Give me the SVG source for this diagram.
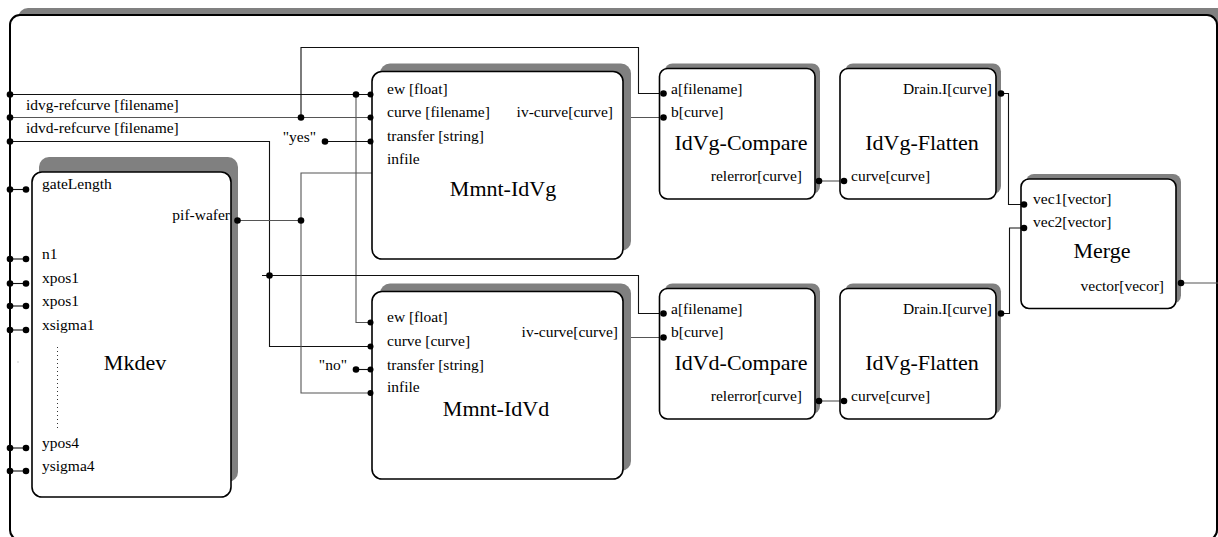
<svg xmlns="http://www.w3.org/2000/svg" width="1218" height="537" viewBox="0 0 1218 537">
<style>
.sh{fill:#808080}
.box{fill:#fff;stroke:#000;stroke-width:1.6}
.t{font-family:"Liberation Serif","Times New Roman",serif;font-size:15.5px;fill:#000}
.e{text-anchor:end}
.ti{font-family:"Liberation Serif","Times New Roman",serif;font-size:22px;fill:#000;text-anchor:middle}
.k{fill:none;stroke:#111;stroke-width:1.1}
.g{fill:none;stroke:#555;stroke-width:1.1}
.d{fill:#000}
</style>
<rect x="0" y="0" width="1218" height="537" fill="#fff"/>
<g id="frame">
<rect class="sh" x="18" y="8" width="1212" height="525" rx="10"/>
<rect x="10" y="15" width="1207" height="525" rx="10" fill="#fff" stroke="#000" stroke-width="2"/>
<text class="t" x="26" y="110">idvg-refcurve [filename]</text>
<text class="t" x="26" y="133">idvd-refcurve [filename]</text>
<text class="t e" x="316" y="142">"yes"</text>
<text class="t e" x="347" y="370">"no"</text>
<rect x="17.5" y="361.5" width="1" height="1" fill="#999"/>
</g>
<g id="connectors">
<polyline class="k" points="10,94.5 372,94.5"/>
<polyline class="g" points="356,94.5 356,322.5 372,322.5"/>
<polyline class="g" points="10,117.5 372,117.5"/>
<polyline class="k" points="301,117.5 301,47.5 638.5,47.5 638.5,93.5 663,93.5"/>
<polyline class="k" points="10,141.5 269.5,141.5 269.5,346.5 372,346.5"/>
<polyline class="k" points="325,141.5 372,141.5"/>
<polyline class="k" points="262,275.5 638.5,275.5 638.5,313.5 663,313.5"/>
<polyline class="g" points="238,220.5 301,220.5"/>
<polyline class="g" points="372,173 301,173 301,393 372,393"/>
<polyline class="k" points="356,369.5 372,369.5"/>
<polyline class="g" points="623,117.5 663,117.5"/>
<polyline class="g" points="623,337.5 663,337.5"/>
<polyline class="g" points="819,181 844,181"/>
<polyline class="g" points="819,401 844,401"/>
<polyline class="k" points="1001,93.5 1008.5,93.5 1008.5,204.5 1024,204.5"/>
<polyline class="k" points="1001,313.5 1009.5,313.5 1009.5,228 1024,228"/>
<polyline class="g" points="1181,283 1218,283"/>
<polyline class="k" points="10,189.5 26,189.5"/>
<polyline class="k" points="10,259 26,259"/>
<polyline class="k" points="10,283.5 26,283.5"/>
<polyline class="k" points="10,306 26,306"/>
<polyline class="k" points="10,330 26,330"/>
<polyline class="k" points="10,448 26,448"/>
<polyline class="k" points="10,471 26,471"/>
<circle class="d" cx="10" cy="94.5" r="3.3"/>
<circle class="d" cx="10" cy="117.5" r="3.3"/>
<circle class="d" cx="10" cy="141.5" r="3.3"/>
<circle class="d" cx="356" cy="94.5" r="3.3"/>
<circle class="d" cx="301" cy="117.5" r="3.3"/>
<circle class="d" cx="325" cy="141.5" r="3.3"/>
<circle class="d" cx="301" cy="220.5" r="3.3"/>
<circle class="d" cx="269.5" cy="275.5" r="3.3"/>
<circle class="d" cx="356" cy="369.5" r="3.3"/>
<circle class="d" cx="10" cy="189.5" r="3.3"/>
<circle class="d" cx="26" cy="189.5" r="3.3"/>
<circle class="d" cx="10" cy="259" r="3.3"/>
<circle class="d" cx="26" cy="259" r="3.3"/>
<circle class="d" cx="10" cy="283.5" r="3.3"/>
<circle class="d" cx="26" cy="283.5" r="3.3"/>
<circle class="d" cx="10" cy="306" r="3.3"/>
<circle class="d" cx="26" cy="306" r="3.3"/>
<circle class="d" cx="10" cy="330" r="3.3"/>
<circle class="d" cx="26" cy="330" r="3.3"/>
<circle class="d" cx="10" cy="448" r="3.3"/>
<circle class="d" cx="26" cy="448" r="3.3"/>
<circle class="d" cx="10" cy="471" r="3.3"/>
<circle class="d" cx="26" cy="471" r="3.3"/>
</g>
<g id="Mkdev">
<rect class="sh" x="39" y="157" width="199" height="325" rx="10"/>
<rect class="box" x="32" y="172" width="199" height="325" rx="10"/>
<text class="t" x="42" y="189">gateLength</text>
<text class="t e" x="230" y="220">pif-wafer</text>
<text class="t" x="42" y="259">n1</text>
<text class="t" x="42" y="283">xpos1</text>
<text class="t" x="42" y="306">xpos1</text>
<text class="t" x="42" y="330">xsigma1</text>
<text class="t" x="42" y="448">ypos4</text>
<text class="t" x="42" y="471">ysigma4</text>
<line x1="57.5" y1="347" x2="57.5" y2="431" stroke="#333" stroke-width="1" stroke-dasharray="1,3"/>
<text class="ti" x="135" y="370">Mkdev</text>
<circle class="d" cx="237.5" cy="220.5" r="3.3"/>
</g>
<g id="Mmnt-IdVg">
<rect class="sh" x="380" y="63.5" width="251" height="187.5" rx="10"/>
<rect class="box" x="372" y="71.5" width="251" height="187.5" rx="10"/>
<circle class="d" cx="370.5" cy="94.5" r="3"/>
<circle class="d" cx="370.5" cy="117.5" r="3"/>
<circle class="d" cx="370.5" cy="141.5" r="3"/>
<text class="t" x="387" y="94">ew [float]</text>
<text class="t" x="387" y="117">curve [filename]</text>
<text class="t" x="387" y="141">transfer [string]</text>
<text class="t" x="387" y="164">infile</text>
<text class="t e" x="613" y="117">iv-curve[curve]</text>
<text class="ti" x="503" y="196">Mmnt-IdVg</text>
</g>
<g id="Mmnt-IdVd">
<rect class="sh" x="380" y="283.5" width="251" height="187.5" rx="10"/>
<rect class="box" x="372" y="291.5" width="251" height="187.5" rx="10"/>
<circle class="d" cx="370.5" cy="322.5" r="3"/>
<circle class="d" cx="370.5" cy="346.5" r="3"/>
<circle class="d" cx="370.5" cy="369.5" r="3"/>
<circle class="d" cx="370.5" cy="393" r="3"/>
<text class="t" x="387" y="322">ew [float]</text>
<text class="t" x="387" y="346">curve [curve]</text>
<text class="t" x="387" y="370">transfer [string]</text>
<text class="t" x="387" y="392">infile</text>
<text class="t e" x="618" y="337">iv-curve[curve]</text>
<text class="ti" x="496" y="416">Mmnt-IdVd</text>
</g>
<g id="IdVg-Compare">
<rect class="sh" x="664.5" y="63.5" width="155.5" height="130.5" rx="8"/>
<rect class="box" x="659.5" y="68.5" width="155.5" height="130.5" rx="8"/>
<circle class="d" cx="663.5" cy="93.5" r="3.3"/>
<circle class="d" cx="663.5" cy="117.5" r="3.3"/>
<circle class="d" cx="819" cy="181" r="3.3"/>
<text class="t" x="671" y="94">a[filename]</text>
<text class="t" x="671" y="117">b[curve]</text>
<text class="ti" x="741" y="150">IdVg-Compare</text>
<text class="t e" x="802" y="181">relerror[curve]</text>
</g>
<g id="IdVg-Flatten">
<rect class="sh" x="845" y="63.5" width="156" height="130.5" rx="8"/>
<rect class="box" x="840" y="68.5" width="156" height="130.5" rx="8"/>
<circle class="d" cx="1001" cy="93.5" r="3.3"/>
<circle class="d" cx="844" cy="181" r="3.3"/>
<text class="t e" x="992" y="94">Drain.I[curve]</text>
<text class="ti" x="922" y="150">IdVg-Flatten</text>
<text class="t" x="851" y="181">curve[curve]</text>
</g>
<g id="IdVd-Compare">
<rect class="sh" x="664.5" y="283.5" width="155.5" height="130.5" rx="8"/>
<rect class="box" x="659.5" y="288.5" width="155.5" height="130.5" rx="8"/>
<circle class="d" cx="663.5" cy="313.5" r="3.3"/>
<circle class="d" cx="663.5" cy="337.5" r="3.3"/>
<circle class="d" cx="819" cy="401" r="3.3"/>
<text class="t" x="671" y="314">a[filename]</text>
<text class="t" x="671" y="337">b[curve]</text>
<text class="ti" x="741" y="370">IdVd-Compare</text>
<text class="t e" x="802" y="401">relerror[curve]</text>
</g>
<g id="IdVd-Flatten">
<rect class="sh" x="845" y="283.5" width="156" height="130.5" rx="8"/>
<rect class="box" x="840" y="288.5" width="156" height="130.5" rx="8"/>
<circle class="d" cx="1001" cy="313.5" r="3.3"/>
<circle class="d" cx="844" cy="401" r="3.3"/>
<text class="t e" x="992" y="314">Drain.I[curve]</text>
<text class="ti" x="922" y="370">IdVg-Flatten</text>
<text class="t" x="851" y="401">curve[curve]</text>
</g>
<g id="Merge">
<rect class="sh" x="1026" y="174" width="155" height="129.5" rx="8"/>
<rect class="box" x="1021" y="179" width="155" height="129.5" rx="8"/>
<circle class="d" cx="1024" cy="204.5" r="3.3"/>
<circle class="d" cx="1024" cy="228" r="3.3"/>
<circle class="d" cx="1181" cy="283" r="3.3"/>
<text class="t" x="1033" y="204">vec1[vector]</text>
<text class="t" x="1033" y="227">vec2[vector]</text>
<text class="ti" x="1102" y="258">Merge</text>
<text class="t e" x="1164" y="291">vector[vecor]</text>
</g>
</svg>
